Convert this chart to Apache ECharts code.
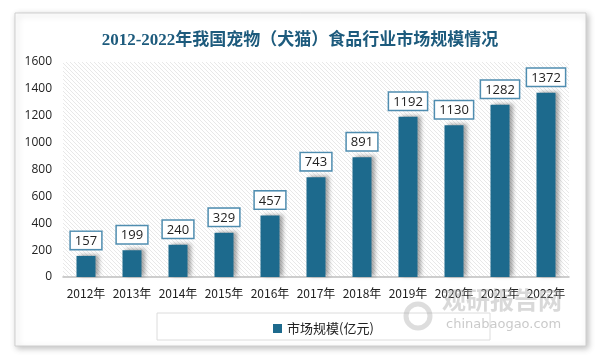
<!DOCTYPE html>
<html><head><meta charset="utf-8">
<script src="https://cdn.jsdelivr.net/npm/echarts@6/dist/echarts.min.js"></script>
<style>html,body{margin:0;padding:0;background:#fff}#c{width:600px;height:359px}</style>
</head><body><div id="c"></div>
<script>
var categories = ['2012年','2013年','2014年','2015年','2016年','2017年','2018年','2019年','2020年','2021年','2022年'];
var marketSize = [157,199,240,329,457,743,891,1192,1130,1282,1372];
var seriesName = '市场规模(亿元)';
var titleText = '2012-2022年我国宠物（犬猫）食品行业市场规模情况';

var pc = document.createElement('canvas');
pc.width = 4; pc.height = 4;
var g = pc.getContext('2d');
g.fillStyle = '#ffffff'; g.fillRect(0,0,4,4);
g.strokeStyle = '#e2e2e2'; g.lineWidth = 0.8;
g.beginPath();
g.moveTo(-1,-1); g.lineTo(5,5);
g.moveTo(-1,3); g.lineTo(1,5);
g.moveTo(3,-1); g.lineTo(5,1);
g.stroke();

var chart = echarts.init(document.getElementById('c'), null, {renderer:'canvas'});
chart.setOption({
  backgroundColor: '#ffffff',
  animation: false,
  title: {
    text: titleText, left: 'center', top: 27,
    textStyle: {color:'#1d5b7d', fontSize:17, fontWeight:'bold', fontFamily:'"Liberation Serif", "Noto Sans CJK SC", serif'}
  },
  graphic: [
    {type:'rect', z:-10, shape:{x:15,y:13,width:571,height:333},
     style:{fill:'#fff', stroke:'#cfcfcf', lineWidth:1, shadowColor:'rgba(0,0,0,0.25)', shadowBlur:6, shadowOffsetX:2, shadowOffsetY:2}},
    {type:'rect', z:-5, shape:{x:157,y:313,width:333,height:27},
     style:{fill:'#fff', stroke:'#dcdcdc', lineWidth:1}},
    {type:'circle', z:20, shape:{cx:418,cy:316,r:12},
     style:{fill:'none', stroke:'rgba(170,170,170,0.4)', lineWidth:5}},
    {type:'text', z:20, left:442, top:288,
     style:{text:'观研报告网', fill:'rgba(160,160,160,0.4)', font:'bold 24px "Noto Sans CJK SC", sans-serif'}},
    {type:'text', z:20, left:446, top:318,
     style:{text:'chinabaogao.com', fill:'rgba(150,150,150,0.5)', font:'13px "DejaVu Sans", sans-serif'}}
  ],
  legend: {
    data:[seriesName], left:268, top:317, icon:'rect', itemWidth:9, itemHeight:9, itemGap:6,
    textStyle:{color:'#222', fontSize:13, fontFamily:'"Noto Sans CJK SC", sans-serif'}
  },
  grid: {left:63, right:31, top:62, bottom:82, show:true, borderWidth:0,
    backgroundColor:{image:pc, repeat:'repeat'}},
  xAxis: {
    type:'category', data:categories,
    axisLine:{lineStyle:{color:'#bfbfbf', width:1.5}},
    axisTick:{show:false},
    axisLabel:{color:'#222', fontSize:12, margin:10, interval:0, fontFamily:'"Noto Sans CJK SC", sans-serif'}
  },
  yAxis: {
    type:'value', min:0, max:1600, interval:200,
    axisLine:{show:false}, axisTick:{show:false}, splitLine:{show:false},
    axisLabel:{color:'#222', fontSize:12, margin:11, fontFamily:'"Open Sans", sans-serif',
      formatter:function(v){return String(v);}}
  },
  series: [{
    name: seriesName, type:'bar', data: marketSize, barWidth:19,
    itemStyle:{color:'#1d6a8d', shadowColor:'rgba(0,0,0,0.35)', shadowBlur:4, shadowOffsetX:3, shadowOffsetY:-1},
    label:{show:true, position:'top', distance:7, color:'#222', fontSize:13,
      fontFamily:'"Open Sans", sans-serif',
      backgroundColor:'#fff', borderColor:'#4f8db0', borderWidth:1.5, padding:[3,4,1,4]}
  }]
});
</script></body></html>
